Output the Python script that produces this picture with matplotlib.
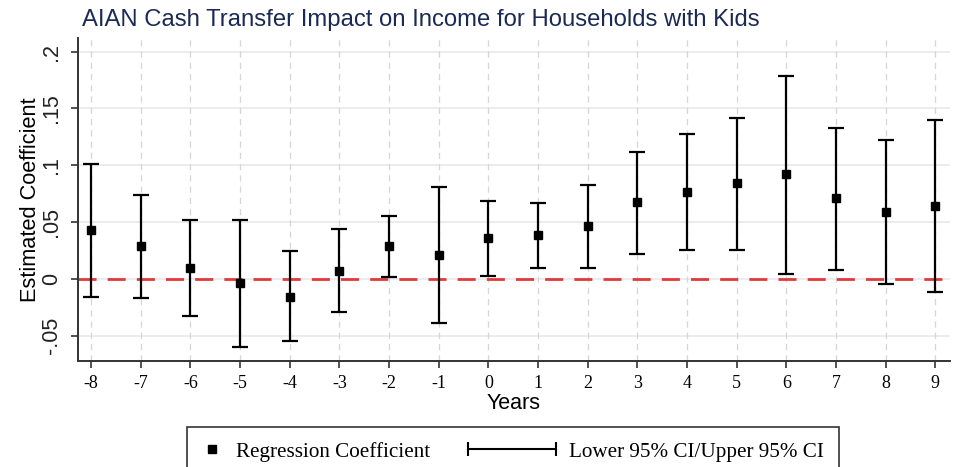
import matplotlib
matplotlib.use("Agg")
import matplotlib.pyplot as plt
from matplotlib.lines import Line2D
from matplotlib.legend_handler import HandlerLine2D
import numpy as np

years = [-8, -7, -6, -5, -4, -3, -2, -1, 0, 1, 2, 3, 4, 5, 6, 7, 8, 9]
coef = [0.043, 0.029, 0.010, -0.0035, -0.0156, 0.0073, 0.029, 0.021, 0.0358,
        0.0385, 0.0464, 0.0676, 0.0769, 0.084, 0.0919, 0.0708, 0.0593, 0.064]
ci_low = [-0.0156, -0.0167, -0.0326, -0.060, -0.055, -0.0294, 0.0018, -0.039, 0.0026,
          0.0097, 0.0094, 0.0223, 0.0258, 0.0258, 0.0044, 0.0082, -0.0044, -0.0115]
ci_high = [0.101, 0.0734, 0.052, 0.052, 0.0247, 0.0437, 0.055, 0.0808, 0.0687,
           0.067, 0.0828, 0.1116, 0.1275, 0.1416, 0.1789, 0.1328, 0.1225, 0.1395]
y_ticks = [-0.05, 0, 0.05, 0.1, 0.15, 0.2]
y_ticklabels = ["-.05", "0", ".05", ".1", ".15", ".2"]

coef = np.array(coef)
err = [coef - np.array(ci_low), np.array(ci_high) - coef]


class WideHandler(HandlerLine2D):
    # stretch the errorbar handle wider than the square marker handle
    def legend_artist(self, legend, orig_handle, fontsize, handlebox):
        handlebox.width *= 4.2
        return super().legend_artist(legend, orig_handle, fontsize, handlebox)


fig = plt.figure(figsize=(9.55, 4.67), dpi=100)
ax = fig.add_axes([0.0814, 0.2276, 0.9136, 0.691])

ax.set_xlim(-8.27, 9.3)
ax.set_ylim(-0.072, 0.212)

# grid
for y in y_ticks:
    ax.axhline(y, color="#e6e9ec", lw=1.2, zorder=0)
for x in years:
    ax.axvline(x, color="#d6d6d6", lw=0.9, ls=(0, (5, 4)), zorder=0)

ax.axhline(0, color="#e03a3a", lw=2, ls=(0, (6.5, 4)), zorder=1)

ax.errorbar(years, coef, yerr=err, fmt="none", ecolor="black", elinewidth=1.6,
            capsize=5.5, capthick=1.6, zorder=2)
ax.plot(years, coef, "s", color="black", ms=6.2, zorder=3)

ax.set_xticks(years)
ax.set_xticklabels([str(y) for y in years], family="Liberation Serif", fontsize=13)
ax.set_yticks(y_ticks)
ax.set_yticklabels(y_ticklabels, rotation=90, va="center", family="Liberation Sans",
                   fontsize=15.5, color="#222222")
ax.tick_params(axis="both", length=5, width=1.2, color="#333333")
ax.tick_params(axis="x", pad=5)
ax.tick_params(axis="y", pad=6)

for s in ["top", "right"]:
    ax.spines[s].set_visible(False)
for s in ["left", "bottom"]:
    ax.spines[s].set_color("#333333")
    ax.spines[s].set_linewidth(1.4)

ax.set_ylabel("Estimated Coefficient", family="Liberation Sans", fontsize=15.7, labelpad=0)
ax.set_xlabel("Years", family="Liberation Sans", fontsize=15.5, labelpad=1)

fig.text(0.086, 0.958, "AIAN Cash Transfer Impact on Income for Households with Kids",
         family="Liberation Sans", fontsize=17.2, color="#1b2a55", va="center")

sq = Line2D([], [], marker="s", color="black", ls="none", ms=6)
eb = Line2D([], [], color="black", lw=1.5, marker="|", ms=10, mew=1.5)
leg = fig.legend([sq, eb], ["Regression Coefficient", "Lower 95% CI/Upper 95% CI"],
                 handler_map={eb: WideHandler(numpoints=2, marker_pad=0)},
                 loc="upper center", bbox_to_anchor=(0.537, 0.109), ncol=2,
                 prop={"family": "Liberation Serif", "size": 15.2},
                 frameon=True, fancybox=False, edgecolor="black",
                 handlelength=1.0, handletextpad=0.6, columnspacing=1.8,
                 borderpad=0.72)
leg.get_frame().set_linewidth(1.2)

fig.savefig("out.png", dpi=100, facecolor="white")
